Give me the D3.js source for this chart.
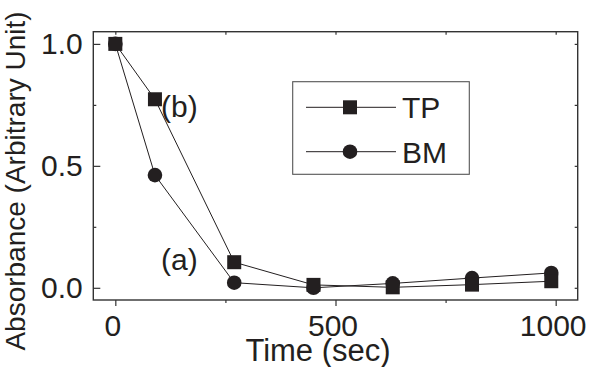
<!DOCTYPE html>
<html>
<head>
<meta charset="utf-8">
<script src="https://cdn.jsdelivr.net/npm/d3@7"></script>
<style>
  html, body { margin: 0; padding: 0; background: #fff; }
  svg { display: block; }
  text { font-family: "Liberation Sans", Arial, Helvetica, sans-serif; fill: #231f20; }
</style>
</head>
<body>
<svg id="chart" width="589" height="367"></svg>
<script>
// ---- data ----
const times = [0, 90, 270, 450, 630, 810, 990];
const tpValues = [1.0, 0.773, 0.105, 0.012, 0.002, 0.013, 0.027];
const bmValues = [1.0, 0.462, 0.021, 0.0, 0.018, 0.040, 0.061];
const seriesNames = ["TP", "BM"];
const xMajorTicks = [0, 500, 1000];
const xMinorTicks = [250, 750];
const yMajorTicks = [0, 0.5, 1.0];
const yMinorTicks = [0.25, 0.75];
const xTitle = "Time (sec)";
const yTitle = "Absorbance (Arbitrary Unit)";
const curveLabels = ["(b)", "(a)"];

// ---- layout ----
const svg = d3.select("#chart");
const L = 93.3, R = 577.7, T = 31.7, B = 300;
const ink = "#231f20";

const x = d3.scaleLinear().domain([-50, 1050]).range([L, R]);
const y = d3.scaleLinear().domain([-0.05, 1.05]).range([B, T]);

// frame
svg.append("rect")
  .attr("x", L).attr("y", T).attr("width", R - L).attr("height", B - T)
  .attr("fill", "none").attr("stroke", "#333").attr("stroke-width", 1.4);

function styleAxis(g) {
  g.select(".domain").remove();
  g.selectAll(".tick line").attr("stroke", "#333").attr("stroke-width", 1.2);
  g.selectAll("text").attr("fill", ink).attr("font-size", 30)
    .attr("font-family", '"Liberation Sans", Arial, Helvetica, sans-serif');
}

// bottom major (outward, labelled)
svg.append("g").attr("transform", `translate(0,${B})`)
  .call(d3.axisBottom(x).tickValues(xMajorTicks).tickFormat(d3.format("d"))
    .tickSize(6).tickPadding(8.5))
  .call(styleAxis)
  .call(g => g.selectAll("text").attr("dx", -3));
// bottom minor
svg.append("g").attr("transform", `translate(0,${B})`)
  .call(d3.axisBottom(x).tickValues(xMinorTicks).tickFormat("").tickSize(3))
  .call(styleAxis);
// top ticks (inward)
svg.append("g").attr("transform", `translate(0,${T})`)
  .call(d3.axisBottom(x).tickValues(xMajorTicks.concat(xMinorTicks)).tickFormat("").tickSize(3))
  .call(styleAxis);

// left major (inward ticks, labels outside)
svg.append("g").attr("transform", `translate(${L},0)`)
  .call(d3.axisLeft(y).tickValues(yMajorTicks).tickFormat(d3.format(".1f"))
    .tickSizeInner(-7).tickSizeOuter(0).tickPadding(10.5))
  .call(styleAxis);
// left minor
svg.append("g").attr("transform", `translate(${L},0)`)
  .call(d3.axisLeft(y).tickValues(yMinorTicks).tickFormat("").tickSizeInner(-3).tickSizeOuter(0))
  .call(styleAxis);
// right ticks (inward)
svg.append("g").attr("transform", `translate(${R},0)`)
  .call(d3.axisRight(y).tickValues(yMajorTicks.concat(yMinorTicks)).tickFormat("").tickSizeInner(-3).tickSizeOuter(0))
  .call(styleAxis);

// axis titles
svg.append("text")
  .attr("x", 318).attr("y", 361)
  .attr("text-anchor", "middle").attr("font-size", 31)
  .text(xTitle);
svg.append("text")
  .attr("transform", "translate(25,181) rotate(-90)")
  .attr("text-anchor", "middle").attr("font-size", 28)
  .text(yTitle);

// series
const line = d3.line().x(d => x(d[0])).y(d => y(d[1]));
const tpData = times.map((t, i) => [t, tpValues[i]]);
const bmData = times.map((t, i) => [t, bmValues[i]]);

svg.append("path").datum(bmData).attr("d", line)
  .attr("fill", "none").attr("stroke", ink).attr("stroke-width", 1);
svg.append("path").datum(tpData).attr("d", line)
  .attr("fill", "none").attr("stroke", ink).attr("stroke-width", 1);

const sq = 14, rad = 7.3;
svg.append("g").selectAll("circle").data(bmData).join("circle")
  .attr("cx", d => x(d[0])).attr("cy", d => y(d[1])).attr("r", rad)
  .attr("fill", ink);
svg.append("g").selectAll("rect").data(tpData).join("rect")
  .attr("x", d => x(d[0]) - sq / 2).attr("y", d => y(d[1]) - sq / 2)
  .attr("width", sq).attr("height", sq).attr("fill", ink);

// curve labels
svg.append("text").attr("x", 161).attr("y", 117).attr("font-size", 30).text(curveLabels[0]);
svg.append("text").attr("x", 161).attr("y", 270).attr("font-size", 30).text(curveLabels[1]);

// legend
const lg = svg.append("g");
lg.append("rect").attr("x", 292.7).attr("y", 81.7).attr("width", 176.6).attr("height", 92.6)
  .attr("fill", "#fff").attr("stroke", "#555").attr("stroke-width", 1.1);
const rowsY = [107.3, 151.7];
seriesNames.forEach((name, i) => {
  const ry = rowsY[i];
  lg.append("line").attr("x1", 306).attr("x2", 396).attr("y1", ry).attr("y2", ry)
    .attr("stroke", ink).attr("stroke-width", 1);
  if (i === 0) {
    lg.append("rect").attr("x", 350 - sq / 2).attr("y", ry - sq / 2)
      .attr("width", sq).attr("height", sq).attr("fill", ink);
  } else {
    lg.append("circle").attr("cx", 350).attr("cy", ry).attr("r", rad).attr("fill", ink);
  }
  lg.append("text").attr("x", 402).attr("y", ry + 11).attr("font-size", 30).text(name);
});
</script>
</body>
</html>
